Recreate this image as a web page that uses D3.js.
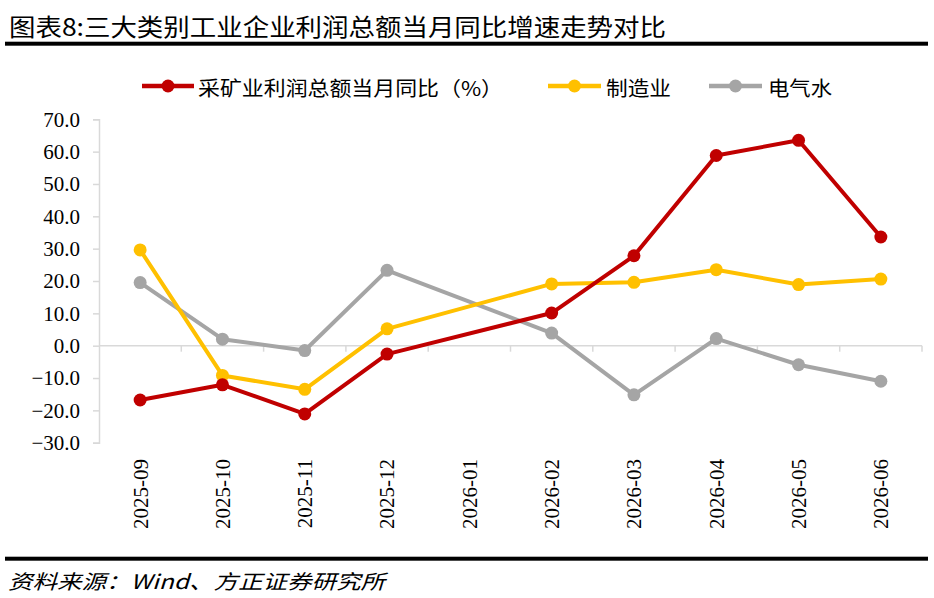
<!DOCTYPE html>
<html>
<head>
<meta charset="utf-8">
<script src="https://cdn.jsdelivr.net/npm/d3@7"></script>
<style>
  html, body { margin: 0; padding: 0; background: #fff; }
  svg { display: block; }
</style>
</head>
<body>
<svg id="chart" width="934" height="598"></svg>
<script>
const categories = ['2025-09','2025-10','2025-11','2025-12','2026-01','2026-02','2026-03','2026-04','2026-05','2026-06'];
const mining = [-16.8, -12.1, -21.1, -2.6, null, 10.1, 27.8, 58.8, 63.5, 33.6];
const manufacturing = [29.6, -9.2, -13.5, 5.2, null, 19.1, 19.6, 23.5, 18.9, 20.6];
const utilities = [19.5, 2.0, -1.5, 23.3, null, 3.9, -15.2, 2.2, -5.9, -11.0];
const yTicks = [-30, -20, -10, 0, 10, 20, 30, 40, 50, 60, 70];
const seriesNames = ['采矿业利润总额当月同比（%）', '制造业', '电气水'];
const seriesColors = ['#C00000', '#FFC000', '#A5A5A5'];

const seriesList = [mining, manufacturing, utilities].map((vals, i) => ({
  name: seriesNames[i], color: seriesColors[i],
  values: categories.map((c, j) => ({ c, v: vals[j] })).filter(d => d.v !== null)
}));

const svg = d3.select('#chart');
const plot = { left: 99, right: 922, top: 119.3, bottom: 442.7 };

const x = d3.scaleBand().domain(categories).range([plot.left, plot.right]).padding(0);
const y = d3.scaleLinear().domain([-30, 70]).range([plot.bottom, plot.top]);
const cx = c => x(c) + x.bandwidth() / 2;

// Title
svg.append('text')
  .attr('x', 9).attr('y', 25)
  .attr('dominant-baseline', 'central')
  .attr('font-family', '"Noto Sans CJK SC", sans-serif')
  .attr('font-weight', 400)
  .attr('font-size', 24)
  .attr('textLength', 657).attr('lengthAdjust', 'spacingAndGlyphs')
  .attr('fill', '#000')
  .text('图表8:三大类别工业企业利润总额当月同比增速走势对比');
svg.append('rect').attr('x', 5).attr('y', 41.7).attr('width', 923).attr('height', 4).attr('fill', '#000');

// Legend
const legendItems = [
  { i: 0, x0: 142, x1: 194, tx: 198, tw: 305 },
  { i: 1, x0: 548, x1: 601, tx: 606, tw: 65 },
  { i: 2, x0: 709, x1: 762, tx: 768, tw: 64 }
];
const lg = svg.append('g');
legendItems.forEach(it => {
  const s = seriesList[it.i];
  lg.append('line').attr('x1', it.x0).attr('x2', it.x1).attr('y1', 86).attr('y2', 86)
    .attr('stroke', s.color).attr('stroke-width', 4.5);
  lg.append('circle').attr('cx', (it.x0 + it.x1) / 2).attr('cy', 86).attr('r', 6.5).attr('fill', s.color);
  lg.append('text').attr('x', it.tx).attr('y', 87)
    .attr('dominant-baseline', 'central')
    .attr('font-family', '"Noto Sans CJK SC", sans-serif')
    .attr('font-size', 20)
    .attr('textLength', it.tw).attr('lengthAdjust', 'spacingAndGlyphs')
    .attr('fill', '#000')
    .text(s.name);
});

// Y axis
const yAxis = d3.axisLeft(y).tickValues(yTicks).tickSize(6).tickPadding(13).tickFormat(d3.format('.1f'));
const yg = svg.append('g').attr('transform', `translate(${plot.left},0)`).call(yAxis);
yg.select('.domain').attr('stroke', '#D9D9D9').attr('stroke-width', 1.5);
yg.selectAll('.tick line').attr('stroke', '#D9D9D9').attr('stroke-width', 1.5);
yg.selectAll('.tick text')
  .attr('font-family', '"Liberation Serif", "Times New Roman", serif')
  .attr('font-size', 21)
  .attr('fill', '#000');

// X axis at zero (band boundaries as ticks)
const xg = svg.append('g');
xg.append('line').attr('x1', plot.left).attr('x2', plot.right).attr('y1', y(0)).attr('y2', y(0))
  .attr('stroke', '#D9D9D9').attr('stroke-width', 1.5);
categories.forEach((c, i) => {
  const bx = x(c) + x.bandwidth();
  xg.append('line').attr('x1', bx).attr('x2', bx).attr('y1', y(0)).attr('y2', y(0) + 6)
    .attr('stroke', '#D9D9D9').attr('stroke-width', 1.5);
});
// X labels
svg.append('g').selectAll('text').data(categories).join('text')
  .attr('transform', d => `translate(${cx(d)},459) rotate(-90)`)
  .attr('text-anchor', 'end')
  .attr('dy', '0.35em')
  .attr('font-family', '"Liberation Serif", "Times New Roman", serif')
  .attr('font-size', 21)
  .attr('fill', '#000')
  .text(d => d);

// Lines
const line = d3.line().x(d => cx(d.c)).y(d => y(d.v));
const sg = svg.append('g');
seriesList.slice().reverse().forEach(s => {
  sg.append('path').datum(s.values).attr('d', line)
    .attr('fill', 'none').attr('stroke', s.color).attr('stroke-width', 4)
    .attr('stroke-linejoin', 'round');
  sg.selectAll(null).data(s.values).join('circle')
    .attr('cx', d => cx(d.c)).attr('cy', d => y(d.v)).attr('r', 6.5)
    .attr('fill', s.color);
});

// Footer
svg.append('rect').attr('x', 5).attr('y', 556.7).attr('width', 923).attr('height', 4).attr('fill', '#000');
svg.append('text')
  .attr('x', 8).attr('y', 580)
  .attr('dominant-baseline', 'central')
  .attr('font-family', '"Noto Sans CJK SC", sans-serif')
  .attr('font-style', 'italic')
  .attr('font-size', 20)
  .attr('textLength', 377).attr('lengthAdjust', 'spacingAndGlyphs')
  .attr('fill', '#000')
  .text('资料来源：Wind、方正证券研究所');
</script>
</body>
</html>
